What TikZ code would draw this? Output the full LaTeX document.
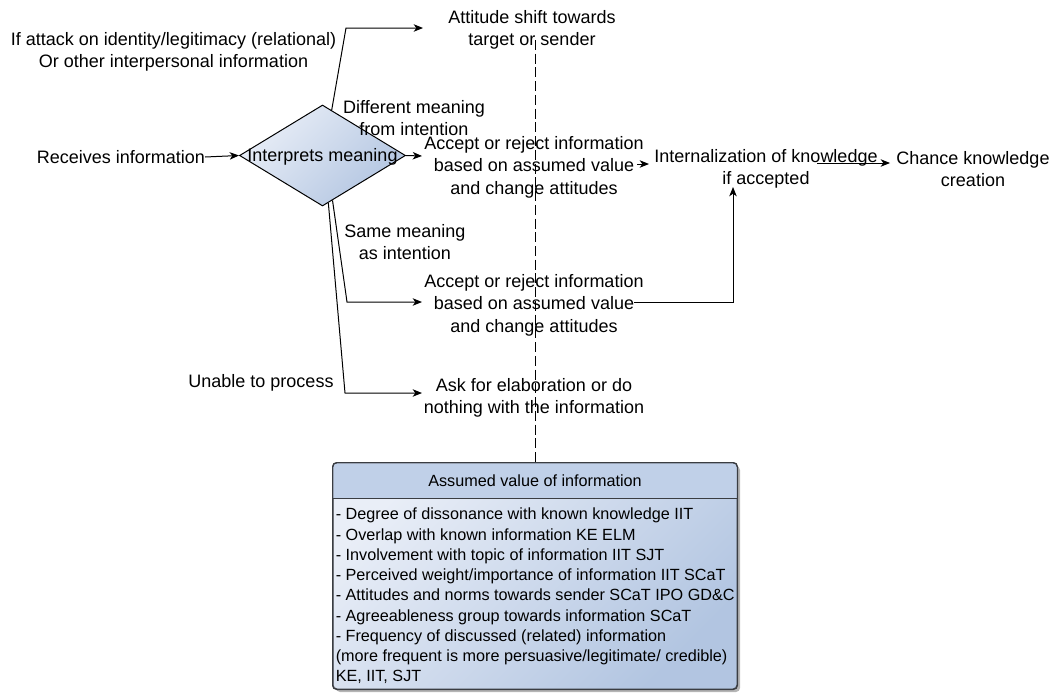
\documentclass[tikz,border=0pt]{standalone}
\usepackage{fontspec}
\setmainfont{Liberation Sans}
\usetikzlibrary{arrows.meta,shapes.geometric,calc}
\definecolor{fillLight}{HTML}{E9EEF7}
\definecolor{fillDark}{HTML}{B2C5E1}
\definecolor{headFill}{HTML}{C0D0E8}
\definecolor{boxLine}{HTML}{3A3D42}
\definecolor{shadowGray}{HTML}{B5B5B5}
\begin{document}
\begin{tikzpicture}[x=0.75pt,y=-0.75pt,
  lbl/.style={align=center,inner sep=0pt,font=\fontsize{13.5pt}{16.9pt}\selectfont},
  smalllbl/.style={align=center,inner sep=0pt,font=\fontsize{12.15pt}{16.6pt}\selectfont},
  boxtext/.style={align=left,inner sep=0pt,font=\fontsize{12.15pt}{15.2pt}\selectfont},
  conn/.style={draw=black,line width=0.75pt,-{Stealth[length=7pt,width=5.6pt,inset=2pt]}},
  guide/.style={draw=black,line width=0.75pt,dash pattern=on 7.5pt off 2.8pt},
  gradfill/.style={top color=fillLight,bottom color=fillDark,shading angle=45}]
\useasboundingbox (0,0) rectangle (1060,693);

% decision diamond
\node[diamond,draw=black,line width=0.75pt,gradfill,minimum width=124.5pt,
      minimum height=75.75pt,inner sep=0pt] (dia) at (322.5,155.5) {};
\node[lbl] (diaText) at (322.5,156.5) {Interprets meaning};

% text nodes
\node[lbl] (recv)   at (121,157) {Receives information};
\node[lbl] (ifatt)  at (173.5,52) {If attack on identity/legitimacy (relational)\\Or other interpersonal information};
\node[lbl] (att)    at (532,30)  {Attitude shift towards\\target or sender};
\node[lbl] (diff)   at (414,118) {Different meaning\\from intention};
\node[lbl] (acc1)   at (534,167) {Accept or reject information\\based on assumed value\\and change attitudes};
\node[lbl] (intern) at (766,169) {Internalization of knowledge\\if accepted};
\node[lbl] (chance) at (973,169) {Chance knowledge\\creation};
\node[lbl] (same)   at (405,242) {Same meaning\\as intention};
\node[lbl] (acc2)   at (534,305) {Accept or reject information\\based on assumed value\\and change attitudes};
\node[lbl] (unable) at (261,383) {Unable to process};
\node[lbl] (ask)    at (534,398) {Ask for elaboration or do\\nothing with the information};

% value box with shadow and header
\fill[shadowGray,rounded corners=3pt] (336,466) rectangle (740,692);
\node[draw=boxLine,line width=0.75pt,rounded corners=3pt,gradfill,
      minimum width=303pt,minimum height=169.5pt,inner sep=0pt] (box) at (535,576) {};
\fill[headFill] (333.4,498) [rounded corners=3pt]-- (333.4,463.4) -- (736.6,463.4) [sharp corners]-- (736.6,498) -- cycle;
\draw[boxLine,line width=0.75pt,rounded corners=3pt] (box.south west) rectangle (box.north east);
\draw[boxLine,line width=0.75pt] (box.west |- 0,498) -- (box.east |- 0,498);
\node[smalllbl] (boxTitle) at (535,481) {Assumed value of information};
\node[boxtext,anchor=west] (boxBody) at (335.5,596) {- Degree of dissonance with known knowledge IIT\\
- Overlap with known information KE ELM\\
- Involvement with topic of information IIT SJT\\
- Perceived weight/importance of information IIT SCaT\\
- Attitudes and norms towards sender SCaT IPO GD\&C\\
- Agreeableness group towards information SCaT\\
- Frequency of discussed (related) information\\
(more frequent is more persuasive/legitimate/ credible)\\
KE, IIT, SJT};

% connector end points
\coordinate (recvOut) at (205,157);
\coordinate (topOut)  at ($(dia.north)!0.11!(dia.east)$);
\coordinate (acc2Out) at ($(dia.south)!0.12!(dia.east)$);
\coordinate (askOut)  at ($(dia.south)!0.07!(dia.east)$);
\coordinate (attIn)   at (423,28);
\coordinate (acc1In)  at (422,156);
\coordinate (acc1Out) at (637,164);
\coordinate (internIn) at (649,164);
\coordinate (internOut) at (817,163);
\coordinate (chanceIn) at (890,163);
\coordinate (acc2In)  at (422,302);
\coordinate (acc2Out2) at (634,302);
\coordinate (internBot) at (733,187);
\coordinate (askIn)   at (422,393);
\coordinate (guideTop) at (535,40);

% connectors
\draw[conn] (recvOut) -- (dia.west);
\draw[conn] (dia.east) -- (acc1In);
\draw[conn] (acc1Out) -- (internIn);
\draw[conn] (internOut) -- (chanceIn);
\draw[conn] (topOut) -- (346,28) -- (attIn);
\draw[conn] (acc2Out) -- (347,302) -- (acc2In);
\draw[conn] (askOut) -- (345,393) -- (askIn);
\draw[conn] (acc2Out2) -- (acc2Out2 -| internBot) -- (internBot);
\draw[guide] (guideTop) -- (box.north);
\end{tikzpicture}
\end{document}
